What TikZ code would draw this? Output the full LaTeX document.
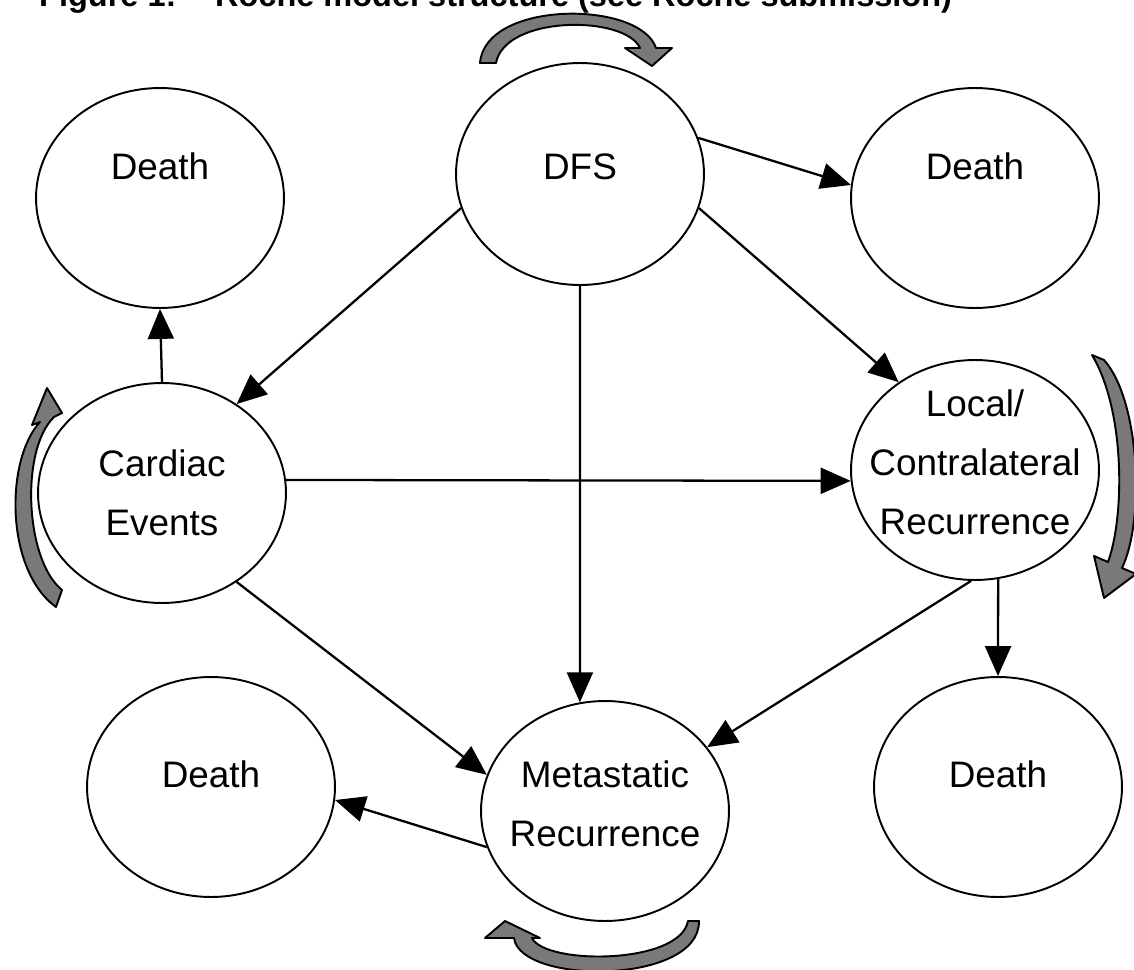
\documentclass[tikz,border=0pt]{standalone}
\usepackage{fontspec}
\setmainfont{Liberation Sans}
\usetikzlibrary{arrows.meta,shapes.geometric}

\begin{document}
\begin{tikzpicture}[x=0.02cm,y=-0.02cm,
  state/.style={ellipse,draw,line width=1.1pt,minimum width=4.96cm,minimum height=4.4cm,
    inner sep=0pt,align=center,font=\fontsize{21}{33.5}\selectfont},
  statetext/.style={font=\fontsize{21}{33.5}\selectfont,align=center},
  trans/.style={line width=1.3pt,-{Triangle[length=0.6cm,width=0.52cm]}},
  cyclearrow/.style={fill=gray!95!black,draw=black,line width=1.1pt,line join=round}]

\useasboundingbox (0,0) rectangle (1134,970);

\node[anchor=base west,font=\fontsize{18.5}{22}\selectfont\bfseries] (title) at (33,7)
  {Figure 1:\hspace{22pt}Roche model structure (see Roche submission)};

% states
\node[state,label={[statetext,yshift=0.63cm]center:Death}] (deathTL) at (160,198) {};
\node[state,minimum height=4.44cm,label={[statetext,yshift=0.14cm]center:DFS}] (dfs) at (580,174) {};
\node[state,label={[statetext,yshift=0.63cm]center:Death}] (deathTR) at (975,198) {};
\node[state] (cardiac) at (162,493) {Cardiac\\Events};
\node[state,label={[statetext,yshift=0.15cm]center:Local/\\Contralateral\\Recurrence}] (local) at (975,470) {};
\node[state,label={[statetext,yshift=0.26cm]center:Death}] (deathBL) at (211,787) {};
\node[state,label={[statetext,yshift=0.15cm]center:Metastatic\\Recurrence}] (meta) at (605,811) {};
\node[state,label={[statetext,yshift=0.26cm]center:Death}] (deathBR) at (998,787) {};

% transitions
\draw[trans] (dfs.17) -- (deathTR.174);
\draw[trans] (dfs.196) -- (cardiac.50);
\draw[trans] (dfs.-16) -- (local.131);
\draw[trans] (dfs.south) -- (meta.103.5);
\draw[trans] (cardiac.north) -- (deathTL.south);
\draw[trans] (cardiac.6) -- (local.185);
\draw[trans] (cardiac.-50) -- (meta.163);
\draw[trans] (local.-92) -- (meta.32);
\draw[trans] (local.-78) -- (deathBR.north);
\draw[trans] (meta.197) -- (deathBL.-6);

% staying in the same state
\draw[cyclearrow] (480,63) .. controls (485,0) and (640,0) .. (656,48) -- (672,48) -- (652,66)
  -- (625,48) -- (640,48) .. controls (625,15) and (505,15) .. (496,63) -- cycle;
\draw[cyclearrow] (1104,360) .. controls (1140,400) and (1145,520) .. (1122,568) -- (1136,574)
  -- (1104,598) -- (1094,556) -- (1108,562) .. controls (1125,515) and (1125,410) .. (1092,355) -- cycle;
\draw[cyclearrow] (699,921) .. controls (700,985) and (520,985) .. (514,938) -- (485,938)
  -- (505,921) -- (540,938) -- (532,938) .. controls (545,965) and (680,965) .. (688,921) -- cycle;
\draw[cyclearrow] (56,607) .. controls (5,570) and (5,460) .. (40,422) -- (32,425) -- (47,388)
  -- (62,413) -- (54,417) .. controls (20,450) and (25,560) .. (62,590) -- cycle;
\end{tikzpicture}
\end{document}
